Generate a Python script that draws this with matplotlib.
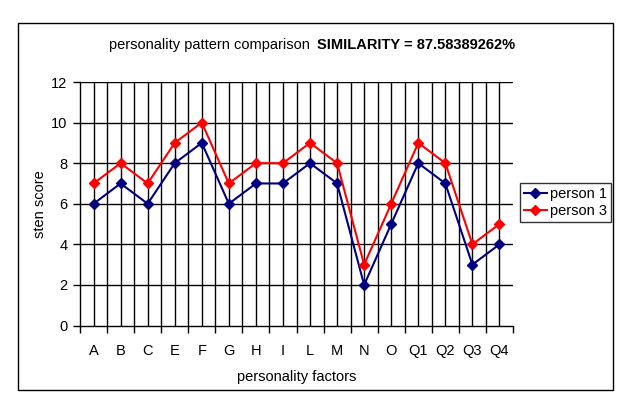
import numpy as np
import matplotlib
matplotlib.use("Agg")
import matplotlib.pyplot as plt
from matplotlib.patches import Rectangle

plt.rcParams['font.family'] = ['Liberation Sans', 'DejaVu Sans']

factors = ['A', 'B', 'C', 'E', 'F', 'G', 'H', 'I', 'L', 'M', 'N', 'O', 'Q1', 'Q2', 'Q3', 'Q4']
person1 = [6, 7, 6, 8, 9, 6, 7, 7, 8, 7, 2, 5, 8, 7, 3, 4]
person3 = [7, 8, 7, 9, 10, 7, 8, 8, 9, 8, 3, 6, 9, 8, 4, 5]
yticks = [0, 2, 4, 6, 8, 10, 12]

fs = 10.5

fig = plt.figure(figsize=(6.21, 4.04), dpi=100)
fig.patches.append(Rectangle((18 / 621, 14 / 404), 595 / 621, 367 / 404,
                             transform=fig.transFigure, fill=False,
                             edgecolor='black', linewidth=1.0))

ax = fig.add_axes([80 / 621, 78.5 / 404, 433 / 621, 243.5 / 404])
x = np.arange(len(factors))
n = len(factors)

# gridlines: at category centres and at boundaries (except the right end)
for xi in x:
    ax.plot([xi, xi], [0, 12], color='black', lw=1.0, zorder=1)
for b in np.arange(0.5, n - 1, 1.0):
    ax.plot([b, b], [0, 12], color='black', lw=1.0, zorder=1)
for yv in yticks[1:]:
    ax.axhline(yv, color='black', lw=1.0, zorder=1)

ax.plot(x, person1, color='#000080', lw=1.5, marker='D', ms=4.8, label='person 1', zorder=3)
ax.plot(x, person3, color='#FF0000', lw=1.5, marker='D', ms=4.8, label='person 3', zorder=3)

ax.set_xlim(-0.5, n - 0.5)
ax.set_ylim(0, 12)
ax.set_yticks(yticks)
ax.set_xticks(np.arange(-0.5, n, 1.0))
ax.set_xticklabels([])
ax.set_xticks(x, minor=True)
ax.set_xticklabels(factors, minor=True, fontsize=fs)
ax.tick_params(axis='x', which='minor', length=0, pad=13)
ax.tick_params(axis='x', which='major', length=5, width=1, direction='out')
ax.tick_params(axis='y', length=5, width=1, labelsize=fs, pad=4)
for s in ['top', 'right']:
    ax.spines[s].set_visible(False)
for s in ['left', 'bottom']:
    ax.spines[s].set_linewidth(1.0)

ax.set_xlabel('personality factors', fontsize=fs, labelpad=9)
ax.set_ylabel('sten score', fontsize=fs, labelpad=3)

leg = ax.legend(loc='upper left', bbox_to_anchor=(520 / 621, 1 - 183 / 404),
                bbox_transform=fig.transFigure, fontsize=fs, frameon=True,
                fancybox=False, edgecolor='black', borderpad=0.25,
                handlelength=1.6, handletextpad=0.2, labelspacing=0.25,
                borderaxespad=0)
leg.get_frame().set_linewidth(1.0)

fig.text(314 / 621, 1 - 45 / 404, 'personality pattern comparison ', ha='right',
         va='center', fontsize=fs)
fig.text(317 / 621, 1 - 45 / 404, 'SIMILARITY = 87.58389262%', ha='left',
         va='center', fontsize=fs, fontweight='bold')

fig.savefig('out.png', dpi=100)
